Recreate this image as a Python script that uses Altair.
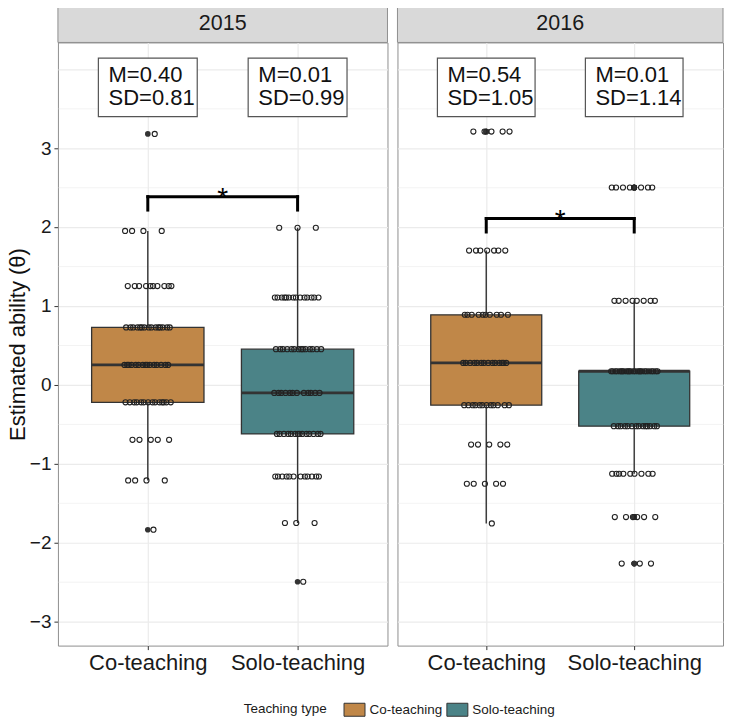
import altair as alt
import pandas as pd

years = ["2015", "2016"]
types = ["Co-teaching", "Solo-teaching"]
type_colors = ["#C08748", "#4B8387"]

# distinct ability estimates in each group and how many students sit at each
vals_2015_co = [-1.84, -1.215, -0.70, -0.224, 0.25, 0.725, 1.25, 1.95, 3.18]
cnts_2015_co = [1, 4, 5, 14, 15, 15, 10, 4, 1]
vals_2015_solo = [-2.50, -1.755, -1.165, -0.625, -0.105, 0.45, 1.105, 1.99]
cnts_2015_solo = [1, 3, 12, 14, 12, 14, 14, 3]
vals_2016_co = [-1.76, -1.257, -0.76, -0.26, 0.275, 0.886, 1.70, 3.21]
cnts_2016_co = [1, 5, 5, 12, 14, 10, 7, 5]
vals_2016_solo = [-2.27, -1.68, -1.13, -0.527, 0.17, 1.063, 2.50]
cnts_2016_solo = [3, 6, 9, 14, 25, 8, 8]

means = {"2015": ["0.40", "0.01"], "2016": ["0.54", "0.01"]}
sds = {"2015": ["0.81", "0.99"], "2016": ["1.05", "1.14"]}
bracket_y = {"2015": 2.384, "2016": 2.106}
bracket_leg = 0.17
signif = "*"

groups = {
    ("2015", "Co-teaching"): (vals_2015_co, cnts_2015_co),
    ("2015", "Solo-teaching"): (vals_2015_solo, cnts_2015_solo),
    ("2016", "Co-teaching"): (vals_2016_co, cnts_2016_co),
    ("2016", "Solo-teaching"): (vals_2016_solo, cnts_2016_solo),
}

rows = []
for (yr, tp), (vals, cnts) in groups.items():
    for v, c in zip(vals, cnts):
        for _ in range(c):
            rows.append({"year": yr, "type": tp, "pos": types.index(tp) + 1, "value": v})
df = pd.DataFrame(rows)

WIDTHS = {"2015": 330, "2016": 326}
H, SH = 604, 37
YDOM = [-3.31, 4.34]
XDOM = [0.4, 2.6]
BOXHALF = 0.375
FONT = "Liberation Sans"

ygrid_vals = [x / 2 for x in range(-6, 9)]
minor_test = "datum.value % 1 != 0 || datum.value > 3.5"

label_expr = " : ".join(
    [f"datum.value == {i + 1} ? '{t}'" for i, t in enumerate(types[:-1])] + [f"'{types[-1]}'"]
)

xaxis = alt.Axis(values=[1, 2], labelExpr=label_expr, grid=True, gridColor="#EBEBEB",
                 gridWidth=1.2, ticks=True, tickSize=4, tickColor="#333333", domain=False,
                 labelFontSize=22, labelColor="#1A1A1A", labelPadding=3, title=None)


def yaxis(left):
    if left:
        return alt.Axis(values=ygrid_vals,
                        labelExpr="datum.value % 1 == 0 && datum.value < 3.5 ? format(datum.value, 'd') : ''",
                        gridColor="#EBEBEB",
                        gridWidth={"condition": {"test": "datum.value % 1 != 0", "value": 0.6}, "value": 1.2},
                        tickOpacity={"condition": {"test": minor_test, "value": 0}, "value": 1},
                        tickSize=4, tickColor="#333333", domain=False, labelFontSize=19,
                        labelColor="#1A1A1A", labelPadding=3,
                        title="Estimated ability (θ)", titleFontSize=22, titleFontWeight="normal",
                        titleColor="#111111", titlePadding=0)
    return alt.Axis(values=ygrid_vals, labels=False, ticks=False, domain=False, title=None,
                    gridColor="#EBEBEB",
                    gridWidth={"condition": {"test": "datum.value % 1 != 0", "value": 0.6}, "value": 1.2})


def X(field):
    return alt.X(field, type="quantitative", scale=alt.Scale(domain=XDOM, nice=False, zero=False),
                 axis=xaxis)


def Y(field, left):
    return alt.Y(field, type="quantitative", scale=alt.Scale(domain=YDOM, nice=False, zero=False),
                 axis=yaxis(left))


legend = alt.Legend(orient="none", legendX=186, legendY=657, direction="horizontal", padding=0,
                    title="Teaching type", titleOrient="left", titleFontSize=13.5,
                    titleFontWeight="normal", titleColor="#1A1A1A", titlePadding=16,
                    labelFontSize=13.5, labelColor="#1A1A1A", labelOffset=4, columnPadding=2,
                    symbolType="M-1,-0.62L1,-0.62L1,0.62L-1,0.62Z", symbolSize=441,
                    symbolStrokeColor="#333333", symbolStrokeWidth=1, symbolOpacity=1)

color = alt.Color("type:N", scale=alt.Scale(domain=types, range=type_colors), legend=legend)


def panel(year, left):
    W = WIDTHS[year]
    d = df[df.year == year]
    strip_df = pd.DataFrame({"year": [year]})
    strip = alt.Chart(strip_df).mark_rect(fill="#D9D9D9", stroke="#8F8F8F", strokeWidth=1).encode(
        x=alt.value(0), x2=alt.value(W), y=alt.value(-SH), y2=alt.value(0))
    strip_text = alt.Chart(strip_df).mark_text(fontSize=21.5, color="#1A1A1A", font=FONT).encode(
        x=alt.value(W / 2), y=alt.value(-SH / 2), text="year:N")

    base = alt.Chart(d).transform_joinaggregate(
        q1="q1(value)", q3="q3(value)", med="median(value)", groupby=["type"]
    ).transform_calculate(
        lo="datum.q1 - 1.5 * (datum.q3 - datum.q1)",
        hi="datum.q3 + 1.5 * (datum.q3 - datum.q1)",
    ).transform_calculate(out="datum.value < datum.lo || datum.value > datum.hi")

    whisker = base.transform_filter("!datum.out").transform_aggregate(
        wlo="min(value)", whi="max(value)", groupby=["type", "pos"]
    ).mark_rule(color="#333333", strokeWidth=1.4).encode(
        x=X("pos"), y=Y("wlo", left), y2="whi")

    stats = base.transform_aggregate(
        q1="min(q1)", q3="min(q3)", med="min(med)", groupby=["type", "pos"]
    ).transform_calculate(xl=f"datum.pos - {BOXHALF}", xr=f"datum.pos + {BOXHALF}")

    box = stats.mark_rect(stroke="#333333", strokeWidth=1.3, opacity=1).encode(
        x=X("xl"), x2="xr", y=Y("q1", left), y2="q3", color=color)
    median = stats.mark_rule(color="#333333", strokeWidth=2.8).encode(
        x=X("xl"), x2="xr", y=Y("med", left))

    outliers = base.transform_filter("datum.out").mark_point(
        filled=True, color="#333333", size=32, opacity=1, shape="circle").encode(
        x=X("pos"), y=Y("value", left))

    jit = alt.Chart(d).transform_window(rn="row_number()", groupby=["type"]).transform_calculate(
        xj="datum.pos + ((datum.rn * 0.6180339887) % 1 - 0.5) * 0.32"
    ).mark_point(shape="circle", filled=False, stroke="#222222", strokeWidth=1.1, size=26,
                 opacity=1).encode(x=X("xj"), y=Y("value", left))

    lab_df = pd.DataFrame({
        "pos": [1, 2],
        "m": [f"M={m}" for m in means[year]],
        "sd": [f"SD={s}" for s in sds[year]],
    })
    lab = alt.Chart(lab_df).transform_calculate(
        xl="datum.pos - 0.33", xr="datum.pos + 0.33", xt="datum.pos - 0.262",
        yb="3.40", yt="4.14", ym="3.93", ys="3.635")
    lab_box = lab.mark_rect(fill="white", stroke="#555555", strokeWidth=1.2).encode(
        x=X("xl"), x2="xr", y=Y("yb", left), y2="yt")
    lab_m = lab.mark_text(align="left", baseline="middle", fontSize=22, color="#111111",
                          font=FONT).encode(x=X("xt"), y=Y("ym", left), text="m:N")
    lab_sd = lab.mark_text(align="left", baseline="middle", fontSize=22, color="#111111",
                           font=FONT).encode(x=X("xt"), y=Y("ys", left), text="sd:N")

    by = bracket_y[year]
    br_df = pd.DataFrame({
        "x": [1, 1, 2], "x2": [2, 1, 2],
        "y": [by, by - bracket_leg, by - bracket_leg], "y2": [by, by, by],
    })
    bracket = alt.Chart(br_df).mark_rule(color="black", strokeWidth=3, strokeCap="square").encode(
        x=X("x"), x2="x2", y=Y("y", left), y2="y2")
    star_df = pd.DataFrame({"x": [1.5], "y": [by], "s": [signif]})
    star = alt.Chart(star_df).mark_text(fontSize=28, baseline="alphabetic", dy=10, color="black",
                                        font=FONT).encode(x=X("x"), y=Y("y", left), text="s:N")

    return alt.layer(strip, strip_text, whisker, box, median, outliers, jit, lab_box, lab_m,
                     lab_sd, bracket, star).properties(width=W, height=H)


chart = alt.hconcat(panel("2015", True), panel("2016", False), spacing=8).resolve_scale(
    color="shared").properties(
    padding={"left": -3, "top": -4, "right": 0, "bottom": 0}
).configure(font=FONT).configure_view(stroke="#8F8F8F", strokeWidth=1)

chart.save("out.html", embed_options={"renderer": "svg", "actions": False})
